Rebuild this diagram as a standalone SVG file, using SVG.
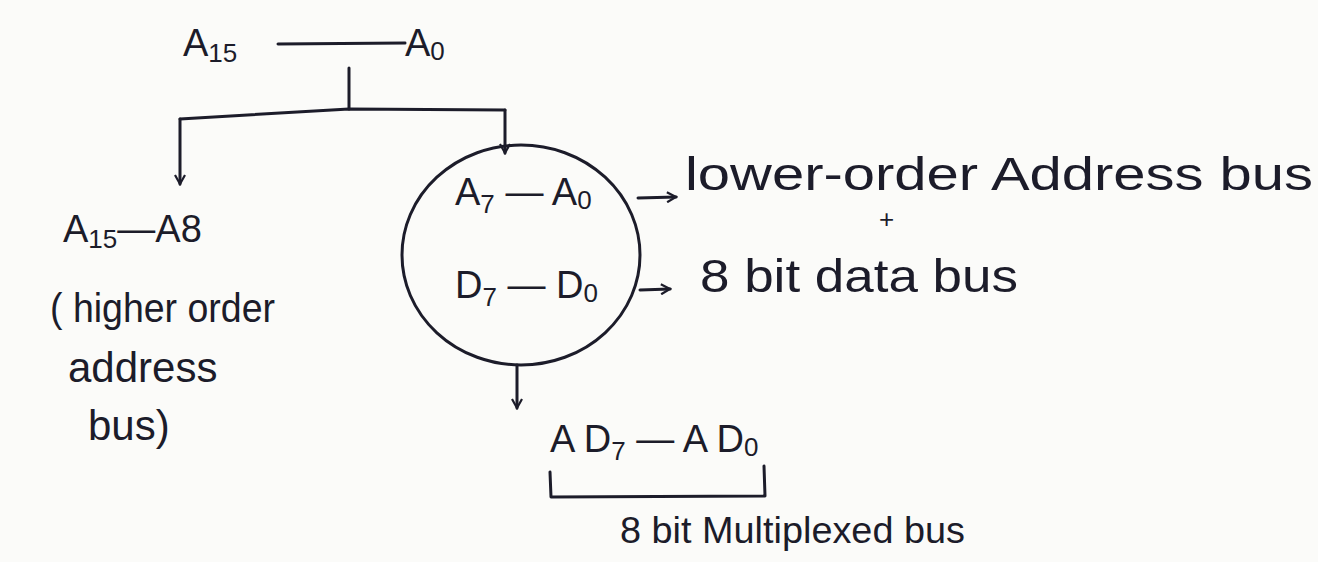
<svg xmlns="http://www.w3.org/2000/svg" width="1318" height="562" viewBox="0 0 1318 562">
<defs>
<style>
.t{font-family:"Liberation Sans",Arial,sans-serif;font-size:38px;fill:#1c1c2a}
.s{font-size:26px}
.ln{stroke:#1c1c2a;stroke-width:3;fill:none;stroke-linecap:round;stroke-linejoin:round}
</style>
<marker id="ah" viewBox="0 0 12 12" refX="10" refY="6" markerWidth="12" markerHeight="12" markerUnits="userSpaceOnUse" orient="auto">
<path d="M1,1 L10,6 L1,11" fill="none" stroke="#1c1c2a" stroke-width="2.2"/>
</marker>
</defs>
<rect width="1318" height="562" fill="#fbfbf9"/>
<g id="connectors">
<line class="ln" x1="278" y1="44" x2="405" y2="43"/>
<line class="ln" x1="349" y1="68" x2="349" y2="109"/>
<path class="ln" d="M180,119 L349,109 L505,110"/>
<line class="ln" x1="180" y1="119" x2="180" y2="184" marker-end="url(#ah)"/>
<line class="ln" x1="505" y1="110" x2="505" y2="153" marker-end="url(#ah)"/>
<line class="ln" x1="638" y1="198" x2="676" y2="197" marker-end="url(#ah)"/>
<line class="ln" x1="640" y1="290" x2="670" y2="289" marker-end="url(#ah)"/>
<line class="ln" x1="517" y1="365" x2="517" y2="408" marker-end="url(#ah)"/>
<path class="ln" d="M550,472 L551,497 L765,496 L764,466"/>
</g>
<g id="node-top">
<text class="t" x="183" y="56">A<tspan class="s" dy="6">15</tspan></text>
<text class="t" x="405" y="56">A<tspan class="s" dy="4">0</tspan></text>
</g>
<g id="node-high">
<text class="t" x="63" y="242">A<tspan class="s" dy="6">15</tspan><tspan dy="-6">—A8</tspan></text>
<text class="t" x="50" y="322" style="font-size:40px" textLength="225" lengthAdjust="spacingAndGlyphs">( higher order</text>
<text class="t" x="68" y="382" style="font-size:42px">address</text>
<text class="t" x="88" y="440" style="font-size:42px">bus)</text>
</g>
<g id="node-circle">
<ellipse class="ln" cx="521" cy="255" rx="119" ry="110"/>
<text class="t" x="455" y="205">A<tspan class="s" dy="8">7</tspan><tspan dy="-8"> — A</tspan><tspan class="s" dy="4">0</tspan></text>
<text class="t" x="455" y="298">D<tspan class="s" dy="8">7</tspan><tspan dy="-8"> — D</tspan><tspan class="s" dy="4">0</tspan></text>
</g>
<g id="node-lower">
<text class="t" x="685" y="190" style="font-size:46px" textLength="628" lengthAdjust="spacingAndGlyphs">lower-order Address bus</text>
<text class="t" x="879" y="228" style="font-size:26px">+</text>
<text class="t" x="700" y="292" style="font-size:46px" textLength="318" lengthAdjust="spacingAndGlyphs">8 bit data bus</text>
</g>
<g id="node-ad">
<text class="t" x="550" y="452">A D<tspan class="s" dy="8">7</tspan><tspan dy="-8"> — A D</tspan><tspan class="s" dy="4">0</tspan></text>
<text class="t" x="620" y="543" textLength="345" lengthAdjust="spacingAndGlyphs" style="font-size:36px">8 bit Multiplexed bus</text>
</g>
</svg>
